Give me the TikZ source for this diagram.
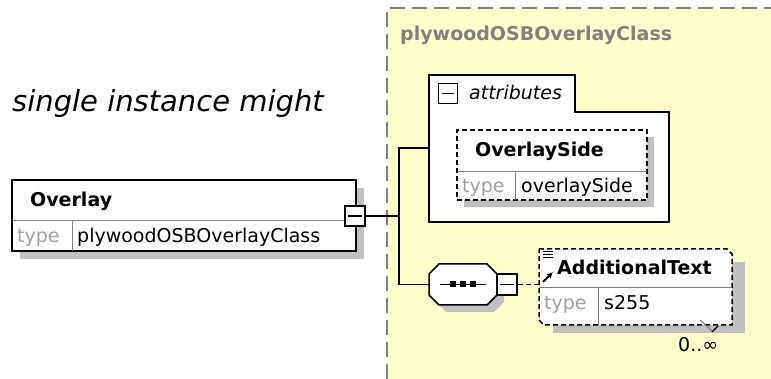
\documentclass[tikz,border=0pt]{standalone}
\usepackage{fontspec}
\setmainfont{DejaVu Sans}
\usetikzlibrary{arrows.meta}

\definecolor{panelyellow}{HTML}{FFFFCC}
\definecolor{shadowgrey}{HTML}{C0C0C0}
\definecolor{titlegrey}{HTML}{808080}
\definecolor{typegrey}{HTML}{A0A0A0}

\tikzset{
  diag/.style={font=\fontsize{19}{22}\selectfont, inner sep=0pt},
  elembox/.style={draw=black, line width=1.5pt, fill=white, inner sep=0pt},
  optbox/.style={elembox, dash pattern=on 5pt off 3pt},
  shadowbox/.style={fill=shadowgrey, draw=none, inner sep=0pt},
  anchorbox/.style={draw=none, inner sep=0pt},
  minusbox/.style={draw=black, line width=1.2pt, fill=white, minimum width=20pt, minimum height=20pt, inner sep=0pt},
  conn/.style={line width=1.5pt},
  divider/.style={line width=1pt, draw=gray},
}

\begin{document}
\begin{tikzpicture}[x=1pt, y=-1pt]
\useasboundingbox (0,0) rectangle (771,379);

		% yellow complex type panel
		\fill[panelyellow] (387,8) rectangle (771,379);
		\draw[titlegrey, line width=1.5pt, dash pattern=on 15pt off 7pt] (387,379) -- (387,8) -- (771,8);
		\node[diag, anchor=base west, text=titlegrey] (classname) at (400,41) {\bfseries plywoodOSBOverlayClass};

		% cut off comment text
		\node[anchor=base west, inner sep=0pt, font=\fontsize{29}{34}\selectfont\itshape] (comment) at (12,112) {single instance might};

		% Overlay element
		\node[shadowbox, minimum width=344pt, minimum height=71pt] (overlayshd) at (192,223.5) {};
		\node[elembox, minimum width=344pt, minimum height=71pt] (overlay) at (184,215.5) {};
		\draw[divider] (12,221) -- (356,221);
		\draw[divider] (72,221) -- (72,251);
		\node[diag, anchor=base west] (overlayname) at (30,207) {\bfseries Overlay};
		\node[diag, anchor=base west, text=typegrey] (overlaytype) at (17,243) {type};
		\node[diag, anchor=base west] (overlaytypename) at (77,243) {plywoodOSBOverlayClass};
		\node[minusbox] (overlaymin) at (355,216) {};
		\draw[line width=1.2pt] ([xshift=4pt]overlaymin.west) -- ([xshift=-4pt]overlaymin.east);

		% attributes group
		\draw[fill=white, line width=1.5pt] (429,75) -- (575,75) -- (575,112) -- (669,112) -- (669,222) -- (429,222) -- cycle;
		\coordinate (attrin) at (429,148);
		\node[minusbox, minimum width=19pt] (attrmin) at (448,93.5) {};
		\draw[line width=1.2pt] ([xshift=4pt]attrmin.west) -- ([xshift=-4pt]attrmin.east);
		\node[diag, anchor=base west, font=\fontsize{19}{22}\selectfont\itshape] (attrlabel) at (469,100) {attributes};

		% OverlaySide attribute
		\node[shadowbox, minimum width=190pt, minimum height=70pt] (sideshd) at (559,172) {};
		\node[optbox, minimum width=190pt, minimum height=70pt] (side) at (552,165) {};
		\draw[divider] (457,172) -- (647,172);
		\draw[divider] (515,172) -- (515,200);
		\node[diag, anchor=base west] (sidename) at (475,157) {\bfseries OverlaySide};
		\node[diag, anchor=base west, text=typegrey] (sidetype) at (462,193) {type};
		\node[diag, anchor=base west] (sidetypename) at (521,193) {overlaySide};

		% sequence compositor
		\fill[shadowgrey] (446,271) -- (494,271) -- (504,281) -- (504,302) -- (494,312) -- (446,312) -- (436,302) -- (436,281) -- cycle;
		\draw[fill=white, line width=1.5pt] (439,264) -- (487,264) -- (497,274) -- (497,295) -- (487,305) -- (439,305) -- (429,295) -- (429,274) -- cycle;
		\node[anchorbox, minimum width=68pt, minimum height=41pt] (seq) at (463,284.5) {};
		\draw[line width=1.2pt] ([xshift=11pt]seq.west) -- ([xshift=-11pt]seq.east);
		\foreach \dx in {-10,0,10}
			\fill ([xshift=\dx pt]seq.center) ++(-3,-3) rectangle ++(6,6);
		\node[minusbox, minimum height=21pt] (seqmin) at (507,284.5) {};
		\draw[line width=1.2pt] ([xshift=4pt]seqmin.west) -- ([xshift=-4pt]seqmin.east);

		% AdditionalText element
		\node[shadowbox, minimum width=192pt, minimum height=71pt] (addshd) at (649,297.5) {};
		\draw[fill=white, line width=1.5pt, dash pattern=on 5pt off 3pt] (539,249) -- (727,249) -- (732,254) -- (732,325) -- (544,325) -- (539,320) -- cycle;
		\node[anchorbox, minimum width=193pt, minimum height=76pt] (addtext) at (635.5,287) {};
		\draw[divider] (539,288) -- (732,288);
		\draw[divider] (598,288) -- (598,325);
		\foreach \yy in {252,255,258}
			\draw[line width=1pt] (543,\yy) -- (553,\yy);
		\draw[line width=2pt, -{Latex[length=6pt, width=6pt]}] (543,282) -- (553,272);
		\node[diag, anchor=base west] (addname) at (557,275) {\bfseries AdditionalText};
		\node[diag, anchor=base west, text=typegrey] (addtype) at (544,310) {type};
		\node[diag, anchor=base west] (addtypename) at (604,310) {s255};
		\draw[line width=1pt, gray] (700,320) -- (712,331);
		\draw[line width=1.2pt] (712,332) -- (718,326);
		\node[diag, anchor=base west] (addmult) at (678,352) {0..∞};

		% connectors
		\coordinate (fork) at (399,216);
		\draw[conn] (overlaymin.east) -- (fork);
		\draw[conn] (attrin) -| (fork) |- (seq.west);
		\draw[conn, dash pattern=on 5pt off 3pt] (seqmin.east) -- (seqmin.east -| addtext.west);
	\end{tikzpicture}
\end{document}
